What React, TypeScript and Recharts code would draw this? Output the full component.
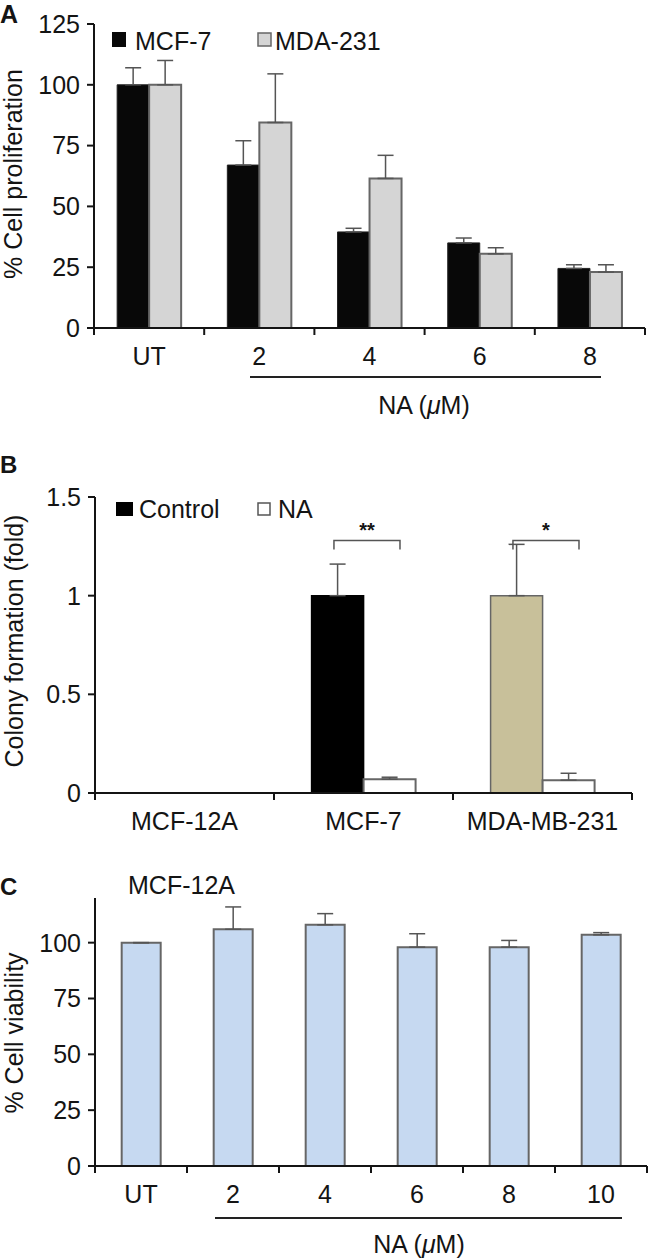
import React from 'react';
import { BarChart, Bar, XAxis, YAxis, ErrorBar, Cell, LabelList } from 'recharts';

const FONT = '"Liberation Sans", Arial, Helvetica, sans-serif';
const FS = 25;
const INK = '#141414';

// ---------- Panel A ----------
const aCategories = ['UT', '2', '4', '6', '8'];
const aSeriesNames = ['MCF-7', 'MDA-231'];
const aMcf7 = [100, 67, 39.5, 35, 24.5];
const aMcf7Err = [7, 10, 1.5, 2, 1.5];
const aMda = [100, 84.5, 61.5, 30.5, 23];
const aMdaErr = [10, 20, 9.5, 2.5, 3];
const aTicks = [0, 25, 50, 75, 100, 125];

// ---------- Panel B ----------
const bCategories = ['MCF-12A', 'MCF-7', 'MDA-MB-231'];
const bSeriesNames = ['Control', 'NA'];
const bControl = [null, 1, 1];
const bControlErr = [0, 0.16, 0.26];
const bNA = [null, 0.07, 0.065];
const bNAErr = [0, 0.01, 0.035];
const bControlColors = ['#000000', '#000000', '#c8c09a'];
const bSig = ['', '**', '*'];
const bSigLevel = [0, 1.28, 1.28];
const bTicks = [0, 0.5, 1, 1.5];

// ---------- Panel C ----------
const cCategories = ['UT', '2', '4', '6', '8', '10'];
const cViability = [100, 106, 108, 98, 98, 103.5];
const cErr = [0, 10, 5, 6, 3, 1];
const cTicks = [0, 25, 50, 75, 100];

const dataA = aCategories.map((cat, i) => ({
  cat,
  mcf7: aMcf7[i],
  mcf7Err: [0, aMcf7Err[i]],
  mda: aMda[i],
  mdaErr: [0, aMdaErr[i]],
}));

const dataB = bCategories.map((cat, i) => ({
  cat,
  control: bControl[i],
  controlErr: [0, bControlErr[i]],
  na: bNA[i],
  naErr: [0, bNAErr[i]],
  sigIdx: bSig[i] ? i : null,
}));

const dataC = cCategories.map((cat, i) => ({
  cat,
  v: cViability[i],
  err: [0, cErr[i]],
}));

const BoundaryTick = (props: any) => {
  const { x, y, payload, index, visibleTicksCount } = props;
  const half = payload && payload.offset != null ? payload.offset : 0;
  return (
    <g>
      <line x1={x - half} y1={y} x2={x - half} y2={y + 7} stroke={INK} strokeWidth={2} />
      {index === visibleTicksCount - 1 && (
        <line x1={x + half} y1={y} x2={x + half} y2={y + 7} stroke={INK} strokeWidth={2} />
      )}
      <text x={x} y={y + 37} textAnchor="middle" fontSize={FS} fontFamily={FONT} fill={INK}>
        {payload.value}
      </text>
    </g>
  );
};

const SigBracket = (props: any) => {
  const { x, y, width, height, value } = props;
  if (value == null || typeof value !== 'number') return null;
  const i = value as number;
  const ctrl = bControl[i] as number;
  if (!ctrl || !height) return null;
  const perUnit = height / ctrl;
  const base = y + height;
  const yb = base - bSigLevel[i] * perUnit;
  const x1 = x + width * 0.43;
  const x2 = x + width * 1.7;
  return (
    <g>
      <path d={`M${x1},${yb + 9} V${yb} H${x2} V${yb + 9}`} fill="none" stroke="#555" strokeWidth={1.5} />
      <text x={(x1 + x2) / 2} y={yb - 3} textAnchor="middle" fontSize={20} fontWeight="bold" fontFamily={FONT} fill={INK}>
        {bSig[i]}
      </text>
    </g>
  );
};

const yTick = { fontSize: FS, fill: INK, fontFamily: FONT };
const axisLine = { stroke: INK, strokeWidth: 2 };
const tickLine = { stroke: INK, strokeWidth: 2 };

export default function App() {
  return (
    <div style={{ position: 'absolute', left: 0, top: 0, width: 648, height: 1258, background: '#fff', overflow: 'hidden' }}>
      {/* Panel A */}
      <div style={{ position: 'absolute', left: 0, top: 0 }}>
        <BarChart width={648} height={390} data={dataA} margin={{ top: 24, right: 3, left: 0, bottom: 2 }} barGap={0} barCategoryGap="21%">
          <XAxis dataKey="cat" height={60} interval={0} tickSize={0} tickMargin={0} tickLine={false} axisLine={axisLine} tick={<BoundaryTick />} />
          <YAxis width={94} domain={[0, 125]} ticks={aTicks} interval={0} tick={yTick} tickSize={7} tickMargin={7} axisLine={axisLine} tickLine={tickLine} />
          <Bar dataKey="mcf7" fill="#080808" stroke="#222" strokeWidth={1} isAnimationActive={false}>
            <ErrorBar dataKey="mcf7Err" width={8} stroke="#555" strokeWidth={1.5} direction="y" />
          </Bar>
          <Bar dataKey="mda" fill="#d5d5d5" stroke="#666" strokeWidth={2} isAnimationActive={false}>
            <ErrorBar dataKey="mdaErr" width={8} stroke="#555" strokeWidth={1.5} direction="y" />
          </Bar>
        </BarChart>
      </div>

      {/* Panel B */}
      <div style={{ position: 'absolute', left: 0, top: 440 }}>
        <BarChart width={648} height={415} data={dataB} margin={{ top: 57, right: 16, left: 0, bottom: 2 }} barGap={0} barCategoryGap="21%">
          <XAxis dataKey="cat" height={60} interval={0} tickSize={0} tickMargin={0} tickLine={false} axisLine={axisLine} tick={<BoundaryTick />} />
          <YAxis width={95} domain={[0, 1.5]} ticks={bTicks} interval={0} tick={yTick} tickSize={7} tickMargin={7} axisLine={axisLine} tickLine={tickLine} tickFormatter={(v: number) => String(v)} />
          <Bar dataKey="control" stroke="#555" strokeWidth={1.5} isAnimationActive={false}>
            {dataB.map((d, i) => (
              <Cell key={d.cat} fill={bControlColors[i]} stroke={i === 2 ? '#666' : '#000'} />
            ))}
            <ErrorBar dataKey="controlErr" width={8} stroke="#555" strokeWidth={1.5} direction="y" />
            <LabelList dataKey="sigIdx" content={(p: any) => <SigBracket {...p} />} />
          </Bar>
          <Bar dataKey="na" fill="#ffffff" stroke="#666" strokeWidth={2} isAnimationActive={false}>
            <ErrorBar dataKey="naErr" width={8} stroke="#555" strokeWidth={1.5} direction="y" />
          </Bar>
        </BarChart>
      </div>

      {/* Panel C */}
      <div style={{ position: 'absolute', left: 0, top: 860 }}>
        <BarChart width={648} height={368} data={dataC} margin={{ top: 38, right: 1, left: 0, bottom: 2 }} barCategoryGap="29%">
          <XAxis dataKey="cat" height={60} interval={0} tickSize={0} tickMargin={0} tickLine={false} axisLine={axisLine} tick={<BoundaryTick />} />
          <YAxis width={95} domain={[0, 120]} ticks={cTicks} interval={0} tick={yTick} tickSize={7} tickMargin={7} axisLine={axisLine} tickLine={tickLine} />
          <Bar dataKey="v" fill="#c6d9f1" stroke="#666" strokeWidth={2} isAnimationActive={false}>
            <ErrorBar dataKey="err" width={8} stroke="#555" strokeWidth={1.5} direction="y" />
          </Bar>
        </BarChart>
      </div>

      {/* Annotations */}
      <svg width={648} height={1258} style={{ position: 'absolute', left: 0, top: 0, pointerEvents: 'none' }} fontFamily={FONT} fill={INK}>
        {/* Panel letters */}
        <text x={0} y={23} fontSize={25} fontWeight="bold">A</text>
        <text x={0} y={473} fontSize={24} fontWeight="bold">B</text>
        <text x={0} y={895} fontSize={24} fontWeight="bold">C</text>

        {/* Panel A legend */}
        <rect x={112} y={32} width={14} height={15} fill="#080808" />
        <text x={135} y={50} fontSize={FS}>{aSeriesNames[0]}</text>
        <rect x={258} y={33} width={13} height={13} fill="#d5d5d5" stroke="#666" strokeWidth={1.5} />
        <text x={275} y={50} fontSize={FS}>{aSeriesNames[1]}</text>

        {/* Panel A y label */}
        <text transform="translate(22,174) rotate(-90)" textAnchor="middle" fontSize={FS}>% Cell proliferation</text>
        {/* Panel A treatment underline */}
        <line x1={250} y1={377} x2={601} y2={377} stroke="#222" strokeWidth={2} />
        <text x={424} y={414} textAnchor="middle" fontSize={FS}>
          NA (<tspan fontStyle="italic">μ</tspan>M)
        </text>

        {/* Panel B legend */}
        <rect x={116} y={502} width={17} height={14} fill="#000" />
        <text x={139} y={518} fontSize={FS}>{bSeriesNames[0]}</text>
        <rect x={258} y={503} width={12} height={12} fill="#fff" stroke="#555" strokeWidth={1.5} />
        <text x={278} y={518} fontSize={FS}>{bSeriesNames[1]}</text>
        {/* Panel B y label */}
        <text transform="translate(23,641) rotate(-90)" textAnchor="middle" fontSize={FS}>Colony formation (fold)</text>

        {/* Panel C title and labels */}
        <text x={128} y={894} fontSize={FS}>MCF-12A</text>
        <text transform="translate(23,1033) rotate(-90)" textAnchor="middle" fontSize={FS}>% Cell viability</text>
        <line x1={215} y1={1218} x2={622} y2={1218} stroke="#222" strokeWidth={2} />
        <text x={419} y={1253} textAnchor="middle" fontSize={FS}>
          NA (<tspan fontStyle="italic">μ</tspan>M)
        </text>
      </svg>
    </div>
  );
}
